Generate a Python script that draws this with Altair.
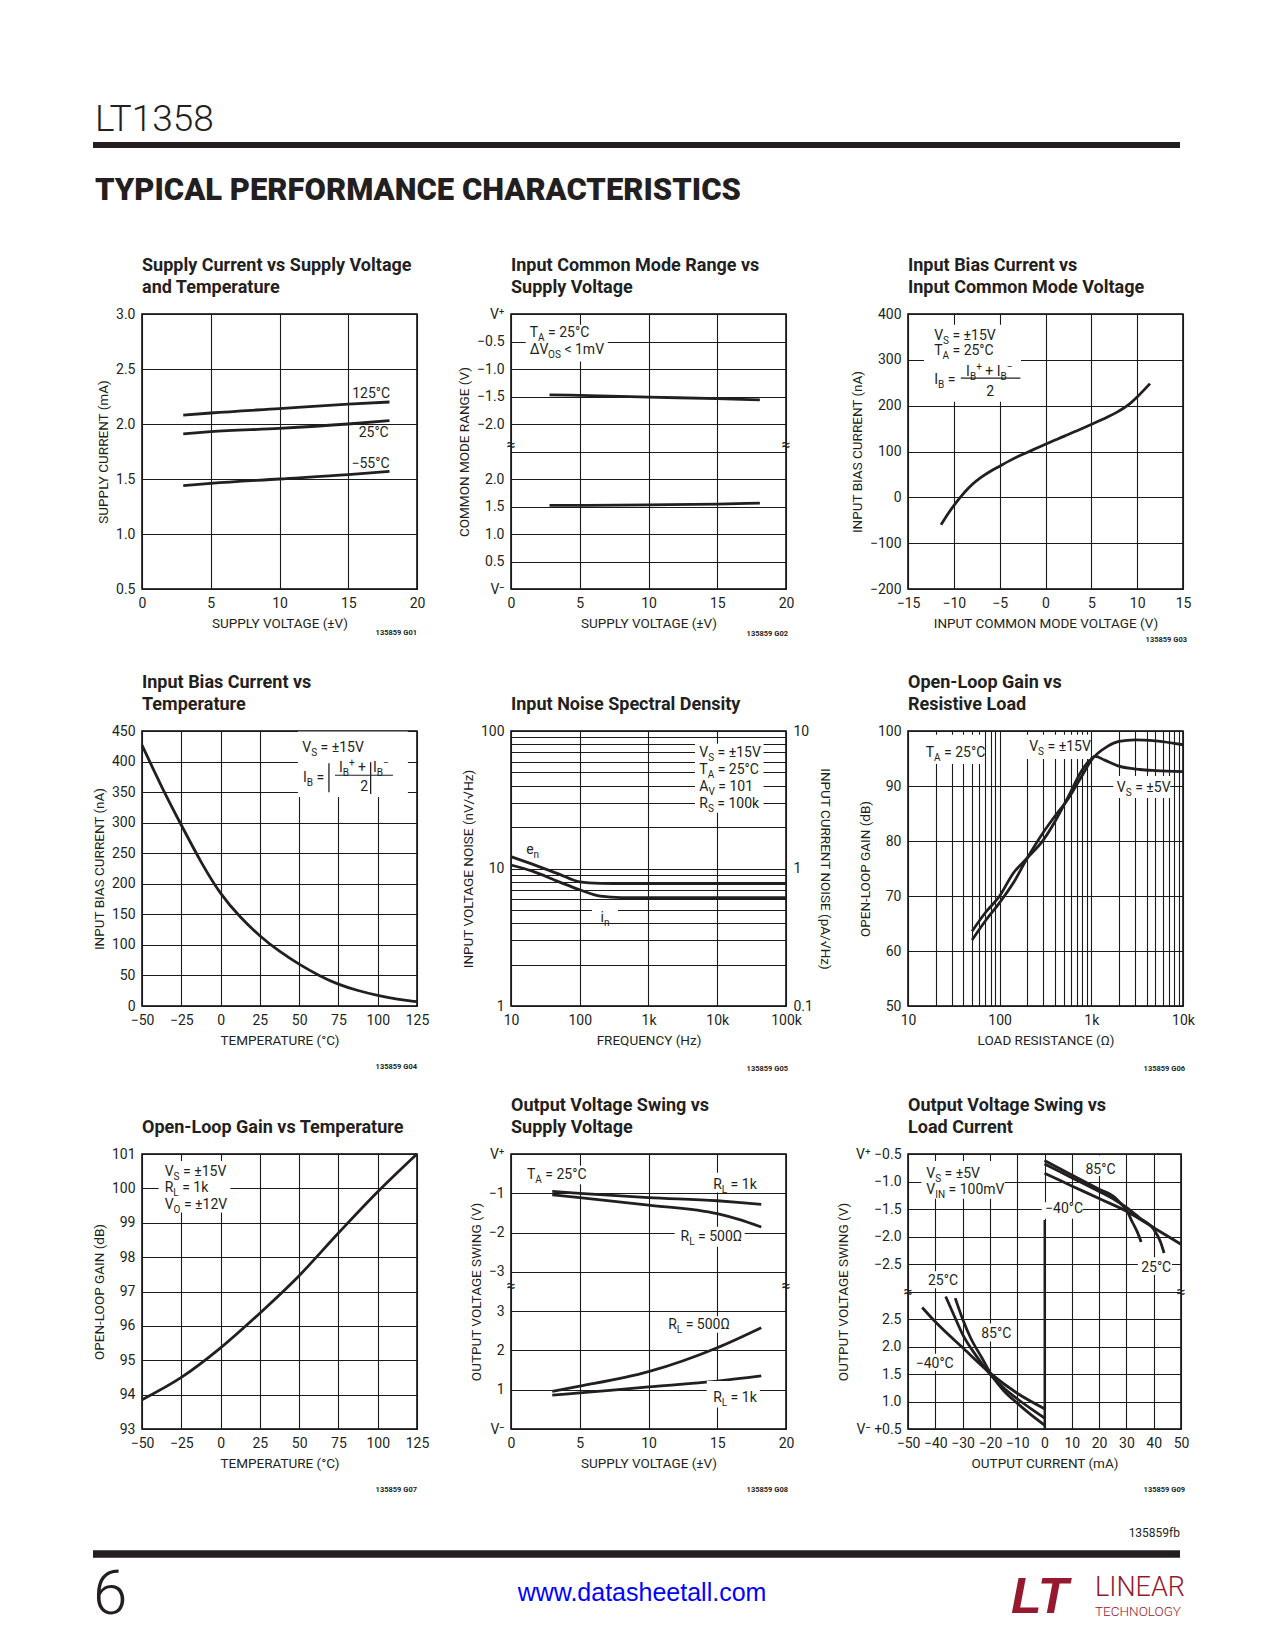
import json
import altair as alt
import pandas as pd

F = "Roboto, Liberation Sans, sans-serif"
INK = '#231f20'
FS = 14
SUB = 10

# ---------------- data ----------------
# 1 Supply current vs supply voltage
sc_v = [3, 5, 10, 15, 18]
sc_125 = [2.08, 2.10, 2.14, 2.18, 2.20]
sc_25 = [1.91, 1.93, 1.96, 2.00, 2.03]
sc_m55 = [1.44, 1.46, 1.50, 1.54, 1.57]

# 2 Input common mode range (top: volts from V+, bottom: volts from V-)
cm_v = [2.8, 5, 10, 15, 18.1]
cm_top = [-1.47, -1.48, -1.51, -1.54, -1.56]
cm_bot = [1.52, 1.52, 1.53, 1.545, 1.56]
cm_labels = ['V⁺', '−0.5', '−1.0', '−1.5', '−2.0', '', '2.0', '1.5', '1.0', '0.5', 'V⁻']

# 3 Input bias current vs common mode voltage
ib_vcm = [-11.4, -10.5, -10, -9.5, -9, -8.5, -8, -7, -6, -5, -4, -3, -2, -1, 0, 2, 4, 6, 8, 9, 10, 11.4]
ib_cm = [-60, -32, -18, -5, 7, 18, 28, 44, 57, 68, 79, 89, 98, 107, 116, 133, 150, 168, 188, 201, 219, 248]

# 4 Input bias current vs temperature
ibt_t = [-50, -37.5, -25, -12.5, 0, 12.5, 25, 37.5, 50, 62.5, 75, 87.5, 100, 112.5, 125]
ibt_i = [427, 358, 296, 235, 182, 145, 114, 89, 68, 50, 35, 25, 17, 11, 7]

# 5 Noise
en_f = [10, 20, 50, 100, 200, 500, 1000, 10000, 100000]
en_v = [12.2, 10.8, 9.1, 8.0, 7.8, 7.75, 7.75, 7.75, 7.75]
in_f = [10, 20, 50, 100, 200, 400, 1000, 10000, 100000]
in_v = [1.06, 0.96, 0.80, 0.70, 0.63, 0.615, 0.615, 0.615, 0.615]

# 6 Open-loop gain vs resistive load
ol_r15 = [50, 70, 100, 140, 200, 300, 400, 550, 800, 1000, 1500, 2000, 3000, 5000, 10000]
ol_15 = [62.0, 65.5, 68.8, 72.3, 76.9, 81.6, 84.5, 87.5, 92.0, 94.7, 97.2, 98.1, 98.4, 98.2, 97.5]
ol_r5 = [50, 70, 100, 140, 200, 300, 400, 550, 800, 1000, 1100, 1400, 2000, 3400, 5000, 10000]
ol_5 = [63.6, 67.0, 70.0, 74.1, 76.9, 80.2, 83.5, 87.8, 93.0, 95.0, 95.4, 94.7, 93.6, 93.0, 92.8, 92.6]

# 7 Open-loop gain vs temperature
olt_t = [-50, -25, 0, 25, 50, 75, 100, 125]
olt_g = [93.85, 94.5, 95.36, 96.37, 97.46, 98.70, 99.9, 101.0]

# 8 Output swing vs supply (top: from V+, bottom: from V-)
sw_v = [3, 5, 10, 15, 16.5, 18.2]
sw_1k_top = [-0.95, -1.0, -1.11, -1.19, -1.23, -1.28]
sw_500_top = [-1.04, -1.11, -1.30, -1.52, -1.66, -1.86]
sw_vb = [3, 5, 10, 15, 18.2]
sw_500_bot = [0.96, 1.09, 1.46, 2.07, 2.58]
sw_1k_bot = [0.86, 0.92, 1.07, 1.22, 1.35]
sw_labels = ['V⁺', '−1', '−2', '−3', '3', '2', '1', 'V⁻']

# 9 Output swing vs load current
u_xm40 = [0, 10, 20, 30, 40, 50]
u_m40 = [-0.85, -1.08, -1.31, -1.54, -1.84, -2.14]
u_x85 = [0, 10, 20, 26, 28.1, 30, 32.3, 34.1, 35.4]
u_85 = [-0.62, -0.88, -1.14, -1.30, -1.41, -1.52, -1.75, -1.93, -2.1]
u_x25 = [0, 10, 20, 26, 30, 34.8, 40, 42.5, 43.8]
u_25 = [-0.68, -0.93, -1.18, -1.34, -1.47, -1.66, -1.87, -2.1, -2.3]
l_xm40 = [-44.8, -40, -30, -20, -10, 0]
l_m40 = [2.71, 2.45, 1.98, 1.52, 1.15, 0.87]
l_x25 = [-36.2, -33, -30, -25, -20, -15, -10, -5, 0]
l_25 = [2.91, 2.55, 2.22, 1.83, 1.50, 1.25, 1.05, 0.87, 0.70]
l_x85 = [-32.7, -30, -27, -23, -19, -15, -10, -5, 0]
l_85 = [2.88, 2.5, 2.15, 1.8, 1.45, 1.2, 0.97, 0.76, 0.57]
ls_labels = ['V⁺ −0.5', '−1.0', '−1.5', '−2.0', '−2.5', '', '2.5', '2.0', '1.5', '1.0', 'V⁻ +0.5']

# ---------------- helpers ----------------
CW = {' ': 248, '.': 263, '=': 549, '+': 566, '−': 566, '-': 276, '±': 545, '°': 378,
      '<': 508, '(': 342, ')': 348, '/': 412, '|': 244, 'Δ': 680, 'Ω': 670, 'k': 507,
      'm': 877, 'e': 529, 'n': 552, 'i': 243, 'V': 636, 'A': 652, 'B': 622, 'C': 652,
      'I': 272, 'L': 538, 'N': 713, 'O': 688, 'R': 616, 'S': 593, 'T': 597}


def tw(s, size):
    return sum(CW.get(c, 562) for c in s) * size / 1000.0


ONE = pd.DataFrame({'k': [0]})


def AX(title, values, **kw):
    return alt.Axis(title=title, values=values, labelOverlap=False, labelFlush=False, **kw)


def lin(d0, d1, rev=False):
    if rev:
        return alt.Scale(domain=[d0, d1], nice=False, zero=False, reverse=True)
    return alt.Scale(domain=[d0, d1], nice=False, zero=False)


def logs(d0, d1):
    return alt.Scale(type='log', domain=[d0, d1], nice=False)


class P:
    """Panel helper: every layer shares identical scale + axis definitions."""

    def __init__(self, xs, xa, ys, ya):
        self.xs, self.xa, self.ys, self.ya = xs, xa, ys, ya

    def X(self, f):
        return alt.X(f + ':Q', scale=self.xs, axis=self.xa)

    def Y(self, f):
        return alt.Y(f + ':Q', scale=self.ys, axis=self.ya)

    def lines(self, df, interp='monotone'):
        return alt.Chart(df).mark_line(color=INK, strokeWidth=2.8, interpolate=interp).encode(
            x=self.X('x'), y=self.Y('y'), detail='s:N')

    def txt(self, x, y, text, dx=0.0, dy=0.0, size=FS, align='left', baseline='alphabetic'):
        d = pd.DataFrame({'x': [x], 'y': [y]})
        return alt.Chart(d).mark_text(
            text=text, align=align, baseline=baseline, dx=round(dx, 2), dy=dy,
            fontSize=size, font=F, color=INK).encode(x=self.X('x'), y=self.Y('y'))

    def rich(self, x, y, segs, align='left'):
        sizes = [FS if k == 'n' else SUB for _, k in segs]
        widths = [tw(t, s) for (t, _), s in zip(segs, sizes)]
        total = sum(widths)
        off = 0.0 if align == 'left' else (-total if align == 'right' else -total / 2)
        out = []
        for (t, k), s, w in zip(segs, sizes, widths):
            dy = 0 if k == 'n' else (4 if k == 'b' else -6)
            lead = len(t) - len(t.lstrip(' '))
            out.append(self.txt(x, y, t.lstrip(' '), dx=off + lead * CW[' '] * s / 1000.0, dy=dy, size=s))
            off += w
        return out

    def box(self, x0, x1, y0, y1):
        d = pd.DataFrame({'x': [x0], 'x1': [x1], 'y': [y0], 'y1': [y1]})
        return alt.Chart(d).mark_rect(color='white').encode(
            x=self.X('x'), x2='x1:Q', y=self.Y('y'), y2='y1:Q')

    def hrule(self, x0, x1, y, w=1.2):
        d = pd.DataFrame({'x': [x0], 'x1': [x1], 'y': [y]})
        return alt.Chart(d).mark_rule(color=INK, strokeWidth=w).encode(
            x=self.X('x'), x2='x1:Q', y=self.Y('y'))

    def vrule(self, x, y0, y1, w=1.2):
        d = pd.DataFrame({'x': [x], 'y': [y0], 'y1': [y1]})
        return alt.Chart(d).mark_rule(color=INK, strokeWidth=w).encode(
            x=self.X('x'), y=self.Y('y'), y2='y1:Q')

    def brk(self, x, y):
        return self.txt(x, y, '≈', size=16, align='center', baseline='middle')


def glabel(code, W, H, gx, gy):
    return alt.Chart(ONE).mark_text(
        text='135859 ' + code, align='right', baseline='alphabetic', fontSize=7.5,
        font=F, color=INK, fontWeight='bold').encode(x=alt.value(W + gx), y=alt.value(H + gy))


def long(series):
    rows = []
    for name, xs, ys in series:
        for a, b in zip(xs, ys):
            rows.append({'s': name, 'x': a, 'y': b})
    return pd.DataFrame(rows)


def T(text, off=10):
    return alt.TitleParams(text=text, anchor='start', frame='group', font=F, fontSize=18,
                           fontWeight='bold', color=INK, offset=off, lineHeight=22)


NOVIEW = alt.ViewBackground(strokeOpacity=0)


def spacer(w, h):
    return alt.Chart(ONE).mark_point(opacity=0, size=1).encode(
        x=alt.value(w / 2), y=alt.value(h / 2)).properties(width=w, height=h, view=NOVIEW)


def VS(v):
    return [('V', 'n'), ('S', 'b'), (' = ' + v, 'n')]


TA = [('T', 'n'), ('A', 'b'), (' = 25°C', 'n')]
W = 275
H = 275

# ---------------- chart 1 ----------------
p = P(lin(0, 20), AX('SUPPLY VOLTAGE (±V)', [0, 5, 10, 15, 20]),
      lin(0.5, 3.0), AX('SUPPLY CURRENT (mA)', [0.5, 1.0, 1.5, 2.0, 2.5, 3.0], format='.1f'))
c1 = alt.layer(
    p.lines(long([('125', sc_v, sc_125), ('25', sc_v, sc_25), ('-55', sc_v, sc_m55)])),
    *p.rich(18.05, 2.24, [('125°C', 'n')], 'right'),
    *p.rich(17.95, 1.88, [('25°C', 'n')], 'right'),
    *p.rich(18.0, 1.60, [('−55°C', 'n')], 'right'),
    glabel('G01', W, H, 0, 46),
).properties(width=W, height=H, title=T(['Supply Current vs Supply Voltage', 'and Temperature']))

# ---------------- chart 2 ----------------
p = P(lin(0, 20), AX('SUPPLY VOLTAGE (±V)', [0, 5, 10, 15, 20]),
      lin(0, 10, True), AX('COMMON MODE RANGE (V)', list(range(11)),
                           labelExpr=json.dumps(cm_labels, ensure_ascii=False) + '[datum.value]'))
c2 = alt.layer(
    p.lines(long([('top', cm_v, [-v / 0.5 for v in cm_top]), ('bot', cm_v, [10 - v / 0.5 for v in cm_bot])])),
    p.box(1.07, 7.04, 0.39, 1.73),
    *p.rich(1.36, 0.84, TA),
    *p.rich(1.36, 1.45, [('ΔV', 'n'), ('OS', 'b'), (' < 1mV', 'n')]),
    p.brk(0, 4.76), p.brk(20, 4.76),
    glabel('G02', W, H, 2, 47),
).properties(width=W, height=H, title=T(['Input Common Mode Range vs', 'Supply Voltage']))

# ---------------- chart 3 ----------------
p = P(lin(-15, 15), AX('INPUT COMMON MODE VOLTAGE (V)', list(range(-15, 16, 5))),
      lin(-200, 400), AX('INPUT BIAS CURRENT (nA)', list(range(-200, 401, 100))))
c3 = alt.layer(
    p.lines(long([('ib', ib_vcm, ib_cm)])),
    p.box(-13.25, -2.67, 376.6, 208.7),
    *p.rich(-12.15, 343.7, VS('±15V')),
    *p.rich(-12.15, 310.9, TA),
    *p.rich(-12.15, 247.4, [('I', 'n'), ('B', 'b'), (' =', 'n')]),
    *p.rich(-8.66, 265.6, [('I', 'n'), ('B', 'b'), ('+', 'p'), (' + I', 'n'), ('B', 'b'), ('−', 'p')]),
    p.hrule(-9.24, -2.74, 260, 1.2),
    p.txt(-6.03, 221.8, '2', align='center'),
    glabel('G03', W, H, 4, 53),
).properties(width=W, height=H, title=T(['Input Bias Current vs', 'Input Common Mode Voltage']))

# ---------------- chart 4 ----------------
p = P(lin(-50, 125), AX('TEMPERATURE (°C)', list(range(-50, 126, 25))),
      lin(0, 450), AX('INPUT BIAS CURRENT (nA)', list(range(0, 451, 50))))
c4 = alt.layer(
    p.lines(long([('ib', ibt_t, ibt_i)]), 'basis'),
    p.box(49.2, 119.2, 449, 342),
    *p.rich(52.0, 416, VS('±15V')),
    *p.rich(52.4, 366.7, [('I', 'n'), ('B', 'b'), (' =', 'n')]),
    p.vrule(68.96, 397.3, 349.6, 1.3),
    p.vrule(95.5, 399, 347, 1.3),
    *p.rich(75.3, 383.0, [('I', 'n'), ('B', 'b'), ('+', 'p'), (' +', 'n')]),
    *p.rich(96.95, 383.0, [('I', 'n'), ('B', 'b'), ('−', 'p')]),
    p.hrule(72.8, 109.7, 377.6, 1.2),
    p.txt(91.4, 352.3, '2', align='center'),
    glabel('G04', W, H, 0, 63),
).properties(width=W, height=H, title=T(['Input Bias Current vs', 'Temperature']))

# ---------------- chart 5 ----------------
y5vals = [1, 2, 3, 4, 5, 6, 7, 8, 9, 10, 20, 30, 40, 50, 60, 70, 80, 90, 100]
p = P(logs(10, 100000), AX('FREQUENCY (Hz)', [10, 100, 1000, 10000, 100000],
                           labelExpr="datum.value >= 1000 ? (datum.value / 1000) + 'k' : '' + datum.value"),
      logs(1, 100), AX('INPUT VOLTAGE NOISE (nV/√Hz)', y5vals,
                       labelExpr="(datum.value == 1 || datum.value == 10 || datum.value == 100) ? '' + datum.value : ''"))
left5 = alt.layer(
    p.lines(long([('en', en_f, en_v)])),
    p.box(4744, 47100, 80.9, 25.4),
    p.box(150, 360, 5.85, 4.3),
    *p.rich(5480, 64.7, VS('±15V')),
    *p.rich(5480, 49.0, TA),
    *p.rich(5480, 36.85, [('A', 'n'), ('V', 'b'), (' = 101', 'n')]),
    *p.rich(5480, 27.7, [('R', 'n'), ('S', 'b'), (' = 100k', 'n')]),
    *p.rich(16.6, 12.85, [('e', 'n'), ('n', 'b')]),
    *p.rich(201, 4.1, [('i', 'n'), ('n', 'b')]),
    glabel('G05', W, H, 2, 65),
)
right5 = alt.Chart(long([('in', in_f, in_v)])).mark_line(
    color=INK, strokeWidth=2.8, interpolate='monotone').encode(
    x=p.X('x'),
    y=alt.Y('y:Q', scale=logs(0.1, 10), axis=AX(
        'INPUT CURRENT NOISE (pA/√Hz)', [0.1, 1, 10], orient='right', grid=False, format='~g')))
c5 = alt.layer(left5, right5).resolve_scale(y='independent').properties(
    width=W, height=H, title=T('Input Noise Spectral Density'))

# ---------------- chart 6 ----------------
x6vals = [m * d for d in [10, 100, 1000] for m in range(1, 10)] + [10000]
p = P(logs(10, 10000), AX('LOAD RESISTANCE (Ω)', x6vals,
                          labelExpr="indexof([10, 100, 1000, 10000], datum.value) >= 0 ? (datum.value >= 1000 ? (datum.value / 1000) + 'k' : '' + datum.value) : ''"),
      lin(50, 100), AX('OPEN-LOOP GAIN (dB)', list(range(50, 101, 10))))
c6 = alt.layer(
    p.lines(long([('15', ol_r15, ol_15), ('5', ol_r5, ol_5)])),
    p.box(14, 67.6, 99.3, 94),
    p.box(197, 968, 99.3, 94.9),
    p.box(1738, 7244, 91.8, 87.8),
    *p.rich(15.6, 95.33, TA),
    *p.rich(210, 96.36, VS('±15V')),
    *p.rich(1897, 88.96, VS('±5V')),
    glabel('G06', W, H, 2, 65),
).properties(width=W, height=H, title=T(['Open-Loop Gain vs', 'Resistive Load']))

# ---------------- chart 7 ----------------
p = P(lin(-50, 125), AX('TEMPERATURE (°C)', list(range(-50, 126, 25))),
      lin(93, 101), AX('OPEN-LOOP GAIN (dB)', list(range(93, 102))))
c7 = alt.layer(
    p.lines(long([('g', olt_t, olt_g)])),
    p.box(-39.4, 6.25, 100.8, 99.3),
    *p.rich(-35.56, 100.37, VS('±15V')),
    *p.rich(-35.56, 99.9, [('R', 'n'), ('L', 'b'), (' = 1k', 'n')]),
    *p.rich(-35.56, 99.4, [('V', 'n'), ('O', 'b'), (' = ±12V', 'n')]),
    glabel('G07', W, H, 0, 63),
).properties(width=W, height=H, title=T('Open-Loop Gain vs Temperature'))

# ---------------- chart 8 ----------------
p = P(lin(0, 20), AX('SUPPLY VOLTAGE (±V)', [0, 5, 10, 15, 20]),
      lin(0, 7, True), AX('OUTPUT VOLTAGE SWING (V)', list(range(8)),
                          labelExpr=json.dumps(sw_labels, ensure_ascii=False) + '[datum.value]'))
RL1k = [('R', 'n'), ('L', 'b'), (' = 1k', 'n')]
RL500 = [('R', 'n'), ('L', 'b'), (' = 500Ω', 'n')]
c8 = alt.layer(
    p.lines(long([('1kt', sw_v, [-v for v in sw_1k_top]), ('500t', sw_v, [-v for v in sw_500_top]),
                  ('500b', sw_vb, [7 - v for v in sw_500_bot]), ('1kb', sw_vb, [7 - v for v in sw_1k_bot])])),
    p.box(1.0, 5.49, 0.3, 0.77),
    p.box(14.24, 18.1, 0.48, 0.98),
    p.box(11.9, 17.0, 1.85, 2.36),
    p.box(11.3, 16.16, 4.13, 4.55),
    p.box(14.24, 18.1, 5.78, 6.45),
    *p.rich(1.16, 0.64, TA),
    *p.rich(14.7, 0.89, RL1k),
    *p.rich(12.33, 2.21, RL500),
    *p.rich(11.43, 4.46, RL500),
    *p.rich(14.7, 6.31, RL1k),
    p.brk(0, 3.35), p.brk(20, 3.35),
    glabel('G08', W, H, 2, 63),
).properties(width=W, height=H, title=T(['Output Voltage Swing vs', 'Supply Voltage']))

# ---------------- chart 9 ----------------
up = lambda vs: [-2 * v - 1 for v in vs]
lo = lambda vs: [11 - 2 * v for v in vs]
p = P(lin(-50, 50), AX('OUTPUT CURRENT (mA)', list(range(-50, 51, 10))),
      lin(0, 10, True), AX('OUTPUT VOLTAGE SWING (V)', list(range(11)),
                           labelExpr=json.dumps(ls_labels, ensure_ascii=False) + '[datum.value]'))
W9 = 273
c9 = alt.layer(
    p.lines(long([('um40', u_xm40, up(u_m40)), ('u85', u_x85, up(u_85)), ('u25', u_x25, up(u_25)),
                  ('lm40', l_xm40, lo(l_m40)), ('l25', l_x25, lo(l_25)), ('l85', l_x85, lo(l_85))])),
    p.box(-45.1, -14.6, 0.25, 1.63),
    p.box(14.7, 25.6, 0.05, 0.8),
    p.box(-1, 14, 1.75, 2.35),
    p.box(34.2, 46.7, 3.75, 4.4),
    p.box(-44.1, -31.3, 4.26, 4.88),
    p.box(-24.3, -12.2, 6.16, 6.82),
    p.box(-48.4, -32.3, 7.26, 7.88),
    p.vrule(0, 2.4, 10, 2),
    *p.rich(-43.3, 0.855, VS('±5V')),
    *p.rich(-43.3, 1.44, [('V', 'n'), ('IN', 'b'), (' = 100mV', 'n')]),
    *p.rich(15.0, 0.73, [('85°C', 'n')]),
    *p.rich(0.2, 2.13, [('−40°C', 'n')]),
    *p.rich(35.4, 4.29, [('25°C', 'n')]),
    *p.rich(-42.7, 4.78, [('25°C', 'n')]),
    *p.rich(-23.2, 6.68, [('85°C', 'n')]),
    *p.rich(-47.2, 7.77, [('−40°C', 'n')]),
    p.brk(-50, 5), p.brk(50, 5),
    glabel('G09', W9, H, 4, 63),
).properties(width=W9, height=H, title=T(['Output Voltage Swing vs', 'Load Current']))

# ---------------- header / footer ----------------


def ptext(x, y, text, size, font=F, weight='normal', color=INK, align='left', style=None):
    kw = dict(text=text, align=align, baseline='alphabetic', fontSize=size, font=font,
              fontWeight=weight, color=color)
    if style:
        kw['fontStyle'] = style
    return alt.Chart(ONE).mark_text(**kw).encode(x=alt.value(x), y=alt.value(y))


def prule(x0, x1, y, w):
    return alt.Chart(ONE).mark_rule(color=INK, strokeWidth=w).encode(
        x=alt.value(x0), x2=alt.value(x1), y=alt.value(y))


COLW = [134, 275, 94, 275, 122, 275]
RX0, RX1 = 85, 1172

header = alt.layer(
    ptext(87, 123, 'LT1358', 37, weight=300),
    prule(RX0, RX1, 137, 6),
    ptext(87, 192, 'TYPICAL PERFORMANCE CHARACTERISTICS', 31, weight=900),
).properties(width=COLW[0], height=306, view=NOVIEW)

MAROON = '#96192f'
footer = alt.layer(
    ptext(RX1, 108, '135859fb', 12, align='right'),
    prule(RX0, RX1, 125, 7.5),
    ptext(85, 185, '6', 62, weight=300),
    ptext(634, 172, 'www.datasheetall.com', 25, font='Liberation Sans', color='#0000ff', align='center'),
    ptext(1003, 184, 'LT', 50, font='Liberation Sans', weight='bold', color=MAROON, style='italic'),
    ptext(1087, 167, 'LINEAR', 27, weight=300, color=MAROON),
    ptext(1087, 187, 'TECHNOLOGY', 13.5, weight=300, color=MAROON),
).properties(width=COLW[0], height=205, view=NOVIEW)


def sprow(h):
    return [spacer(w, h) for w in COLW]


cells = (
    [header] + [spacer(w, 306) for w in COLW[1:]]
    + [spacer(COLW[0], H), c1, spacer(COLW[2], H), c2, spacer(COLW[4], H), c3]
    + sprow(142)
    + [spacer(COLW[0], H), c4, spacer(COLW[2], H), c5, spacer(COLW[4], H), c6]
    + sprow(148)
    + [spacer(COLW[0], H), c7, spacer(COLW[2], H), c8, spacer(COLW[4], H), c9]
    + [footer] + [spacer(w, 205) for w in COLW[1:]]
)

chart = alt.concat(*cells, columns=6, spacing=0, bounds='flush', padding=0).configure_view(
    stroke='black', strokeWidth=1.5).configure_axis(
    domain=False, ticks=False, grid=True, gridColor='#1a1a1a', gridWidth=1.1, gridOpacity=1,
    labelFont=F, labelFontSize=14, labelColor=INK, labelPadding=7, labelFlush=False,
    labelOverlap=False, titleFont=F, titleFontSize=13.5, titleFontWeight='normal',
    titleColor=INK, titlePadding=5).configure_axisX(titlePadding=6)

chart.save('out.html', embed_options={'renderer': 'svg', 'actions': False})
